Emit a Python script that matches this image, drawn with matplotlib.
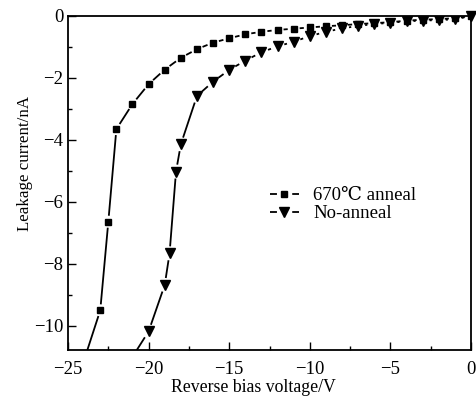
import matplotlib
matplotlib.use("Agg")
import matplotlib.pyplot as plt
import numpy as np
from matplotlib.ticker import MultipleLocator
from matplotlib.collections import LineCollection
from matplotlib.lines import Line2D

# Data
anneal_x = [-24, -23, -22.5, -22, -21, -20, -19, -18, -17, -16, -15, -14, -13, -12, -11, -10,
            -9, -8, -7, -6, -5, -4, -3, -2, -1, 0]
anneal_y = [-11.1, -9.5, -6.64, -3.65, -2.84, -2.2, -1.73, -1.35, -1.07, -0.86, -0.72, -0.59, -0.51, -0.45, -0.41, -0.37,
            -0.33, -0.30, -0.26, -0.23, -0.20, -0.15, -0.12, -0.10, -0.07, 0.0]

noanneal_x = [-21, -20, -19, -18.7, -18.3, -18, -17, -16, -15, -14, -13, -12, -11, -10,
              -9, -8, -7, -6, -5, -4, -3, -2, -1, 0]
noanneal_y = [-11.0, -10.18, -8.68, -7.66, -5.02, -4.14, -2.58, -2.12, -1.74, -1.44, -1.17, -0.98, -0.83, -0.65,
              -0.51, -0.40, -0.32, -0.26, -0.22, -0.17, -0.15, -0.13, -0.11, 0.0]

xticks = [-25, -20, -15, -10, -5, 0]
yticks = [0, -2, -4, -6, -8, -10]

plt.rcParams['font.family'] = ['Liberation Serif', 'DejaVu Serif']

fig = plt.figure(figsize=(4.77, 4.04), dpi=100)
ax = fig.add_axes([0.1426, 0.1337, 0.8448, 0.8267])
ax.set_xlim(-25, 0)
ax.set_ylim(-10.78, 0)


def gapped_line(ax, x, y, gap_px, **kw):
    pts = ax.transData.transform(np.column_stack([x, y]))
    segs = []
    for p0, p1 in zip(pts[:-1], pts[1:]):
        d = p1 - p0
        L = np.hypot(*d)
        if L <= 2 * gap_px:
            continue
        u = d / L
        a = p0 + u * gap_px
        b = p1 - u * gap_px
        segs.append(ax.transData.inverted().transform(np.array([a, b])))
    lc = LineCollection(segs, **kw)
    ax.add_collection(lc)
    return lc


gapped_line(ax, anneal_x, anneal_y, 6.0, colors='black', linewidths=1.3)
ax.plot(anneal_x, anneal_y, color='black', linestyle='none', marker='s', markersize=4.3)
gapped_line(ax, noanneal_x, noanneal_y, 7.0, colors='black', linewidths=1.3)
ax.plot(noanneal_x, noanneal_y, color='black', linestyle='none', marker='v', markersize=6.5)
ax.plot([noanneal_x[-1]], [noanneal_y[-1]], color='black', marker='v', markersize=6.5,
        linestyle='none', clip_on=False)

ax.set_xticks(xticks)
ax.set_yticks(yticks)
ax.set_xticklabels(['\u221225', '\u221220', '\u221215', '\u221210', '\u22125', '0'])
ax.set_yticklabels(['0', '\u22122', '\u22124', '\u22126', '\u22128', '\u221210'])
ax.xaxis.set_minor_locator(MultipleLocator(2.5))
ax.yaxis.set_minor_locator(MultipleLocator(1))
ax.tick_params(which='both', direction='in', labelsize=13.5, width=1, top=False, right=False)
ax.tick_params(axis='x', which='major', pad=8)
ax.tick_params(which='major', length=6)
ax.tick_params(which='minor', length=3)
for s in ax.spines.values():
    s.set_linewidth(1.3)

ax.set_xlabel('Reverse bias voltage/V', fontsize=12.8)
ax.set_ylabel('Leakage current/nA', fontsize=12.2)
ax.xaxis.set_label_coords(0.459, -0.088)
ax.yaxis.set_label_coords(-0.087, 0.56)

lw = 1.3
h1 = Line2D([], [], color='black', linestyle=(0, (5 / lw, 11 / lw)), linewidth=lw, marker='s', markersize=4.3)
h2 = Line2D([], [], color='black', linestyle=(0, (5 / lw, 11 / lw)), linewidth=lw, marker='v', markersize=6.5)
leg = ax.legend([h1, h2], ['670\u2103 anneal', 'No-anneal'], loc='upper left',
                bbox_to_anchor=(0.482, 0.51), frameon=False, fontsize=13.5,
                handlelength=21 / 13.5, handletextpad=0.75, labelspacing=0.05, borderaxespad=0)

fig.savefig('out.png', dpi=100)
